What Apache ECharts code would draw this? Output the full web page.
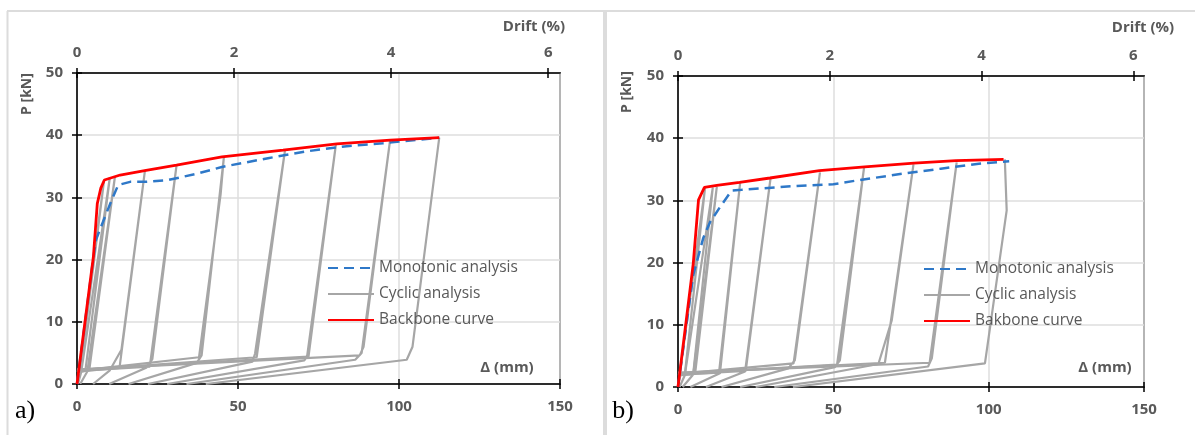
<!DOCTYPE html>
<html><head><meta charset="utf-8">
<script src="https://cdn.jsdelivr.net/npm/echarts@6/dist/echarts.min.js"></script>
<style>html,body{margin:0;padding:0;background:#fff}#c{width:1195px;height:435px}</style>
</head><body><div id="c"></div>
<script>
// ---------------- data ----------------
const xTickValues = [0, 50, 100, 150];
const yTickValues = [0, 10, 20, 30, 40, 50];
const driftTickValues = [0, 2, 4, 6];
const driftMaxA = 6.15;   // drift (%) at Δ = 150 mm, panel a
const driftMaxB = 6.14;   // panel b
const namesA = ['Monotonic analysis', 'Cyclic analysis', 'Backbone curve'];
const namesB = ['Monotonic analysis', 'Cyclic analysis', 'Bakbone curve'];
const panelLabels = ['a)', 'b)'];
const xAxisTitle = 'Δ (mm)';
const topAxisTitle = 'Drift (%)';
const yAxisTitle = 'P [kN]';

// panel a
const monotonicA = [[0,0],[5.0,20.0],[5.9,23.2],[8.7,26.9],[10.8,29.6],[12.8,32.0],[16.5,32.5],[21.2,32.5],[28.4,32.8],[37.9,33.9],[45.0,34.9],[59.3,36.3],[71.2,37.4],[83.0,38.2],[95.0,38.7],[112.5,39.6]];
const backboneA = [[0,0],[5.1,20.5],[6.3,29.0],[7.4,31.5],[8.5,32.8],[13.4,33.6],[21.0,34.3],[30.9,35.2],[45.0,36.5],[64.0,37.6],[80.7,38.6],[97.3,39.2],[112.5,39.6]];
const cyclicA = [
  [[0,0],[8.4,32.7],[1.0,2.0],[0,1.9]],
  [[0.3,0],[1.3,1.9],[10.2,33.2],[2.6,2.1],[0,1.9]],
  [[1.0,0],[3.2,2.0],[11.8,33.4],[3.8,2.2],[0,2.0]],
  [[5,0],[10.2,2.2],[13.8,5.5],[21.1,34.3],[13.2,2.6],[0,2.0]],
  [[10,0],[21.5,2.6],[23.4,4.0],[30.9,35.1],[22.6,2.8],[0,2.1]],
  [[16,0],[37.2,3.4],[38.7,4.6],[45.6,36.4],[44.6,30.5],[37.9,4.3],[0,2.1]],
  [[22,0],[54.5,3.6],[55.3,4.9],[64.6,37.6],[55.8,4.3],[0,2.2]],
  [[28,0],[70.6,3.8],[71.5,4.6],[80.4,38.5],[71.9,4.4],[0,2.3]],
  [[34,0],[86.4,3.9],[88.4,5.0],[97.2,39.1],[89.0,6.0],[87.8,4.6],[0,2.3]],
  [[40,0],[102.4,3.9],[104.2,6.0],[112.5,39.6]]
];

// panel b
const monotonicB = [[0,0],[4.9,18.0],[8.1,23.9],[10.3,26.5],[13.5,28.9],[17.3,31.6],[20.5,31.7],[37.1,32.3],[50.0,32.6],[57.5,33.2],[72.4,34.3],[84.6,35.1],[96.8,35.9],[106.6,36.3]];
const backboneB = [[0,0],[4.9,19.8],[6.6,30.1],[8.5,32.1],[12.5,32.4],[19.8,32.9],[29.6,33.6],[45.5,34.8],[60.1,35.4],[76.0,36.0],[89.5,36.4],[104.8,36.6]];
const cyclicB = [
  [[0,0],[8.7,32.0],[2.2,2.0],[0,1.8]],
  [[0.5,0],[2.2,1.9],[11.2,32.1],[4.9,2.1],[0,1.9]],
  [[1.5,0],[4.9,2.0],[12.5,32.2],[5.5,2.1],[0,1.9]],
  [[4,0],[13.5,2.2],[20.0,32.8],[13.2,2.3],[0,2.0]],
  [[9,0],[21.6,2.5],[29.8,33.6],[21.8,2.6],[0,2.0]],
  [[14,0],[35.5,3.0],[37.6,4.3],[45.7,34.5],[37.2,3.8],[0,2.1]],
  [[20,0],[50.5,3.2],[52.1,4.3],[59.9,35.3],[51.2,3.6],[0,2.1]],
  [[25,0],[64.5,3.7],[68.8,10.7],[75.8,35.8],[66.6,3.9],[0,2.2]],
  [[31,0],[80.5,3.3],[81.7,4.6],[89.7,36.1],[81.0,3.9],[0,2.3]],
  [[37,0],[98.8,3.8],[105.8,28.4],[105.2,36.6]]
];

// ---------------- styles ----------------
const FONT = "'Open Sans', 'Noto Sans', sans-serif";
const TXT = '#595959';
const GRAY = '#a6a6a6', BLUE = '#2e78c8', RED = '#ff0000';
const gridA = { left: 77, top: 73, width: 483, height: 311 };
const gridB = { left: 678, top: 76, width: 466, height: 311 };

function labelStyle(margin) {
  return { color: TXT, fontFamily: FONT, fontWeight: 'bold', fontSize: 15, margin: margin };
}
function bottomAxis(gi, overlay) {
  return {
    type: 'value', gridIndex: gi, position: 'bottom', min: xTickValues[0], max: xTickValues[xTickValues.length - 1], interval: 50,
    axisLine: { show: !overlay, onZero: false, lineStyle: { color: '#000', width: 1.5 } },
    axisTick: { show: true, inside: overlay, length: 5, lineStyle: { color: '#000', width: 1.5 } },
    axisLabel: overlay ? { show: false } : labelStyle(15),
    splitLine: { show: !overlay, lineStyle: { color: '#dedede', width: 1.5 } }
  };
}
function topAxis(gi, max, overlay) {
  return {
    type: 'value', gridIndex: gi, position: 'top', min: 0, max: max,
    axisLine: { show: !overlay, onZero: false, lineStyle: { color: '#000', width: 1.5 } },
    axisTick: { show: true, inside: overlay, length: 5, customValues: driftTickValues, lineStyle: { color: '#000', width: 1.5 } },
    axisLabel: overlay ? { show: false } : Object.assign(labelStyle(13), { customValues: driftTickValues }),
    splitLine: { show: false }
  };
}
function leftAxis(gi, overlay) {
  return {
    type: 'value', gridIndex: gi, position: 'left', min: yTickValues[0], max: yTickValues[yTickValues.length - 1], interval: 10,
    axisLine: { show: !overlay, onZero: false, lineStyle: { color: '#000', width: 1.5 } },
    axisTick: { show: true, inside: overlay, length: 5, lineStyle: { color: '#000', width: 1.5 } },
    axisLabel: overlay ? { show: false } : labelStyle(14),
    splitLine: { show: !overlay, lineStyle: { color: '#dedede', width: 1.5 } }
  };
}
function line(name, data, xi, yi, color, width, type, z) {
  return {
    type: 'line', name: name, data: data, xAxisIndex: xi, yAxisIndex: yi,
    symbol: 'none', showSymbol: false, clip: true, animation: false, z: z,
    lineStyle: { color: color, width: width, type: type }, itemStyle: { color: color },
    emphasis: { disabled: true }
  };
}

const series = [];
cyclicA.forEach(c => series.push(line(namesA[1], c, 0, 0, GRAY, 2.2, 'solid', 2)));
series.push(line(namesA[0], monotonicA, 0, 0, BLUE, 2.5, [10, 6], 3));
series.push(line(namesA[2], backboneA, 0, 0, RED, 2.8, 'solid', 4));
cyclicB.forEach(c => series.push(line(namesB[1], c, 2, 1, GRAY, 2.2, 'solid', 2)));
series.push(line(namesB[0], monotonicB, 2, 1, BLUE, 2.5, [10, 6], 3));
series.push(line(namesB[2], backboneB, 2, 1, RED, 2.8, 'solid', 4));

function legend(left, top, names) {
  return {
    orient: 'vertical', left: left, top: top, data: names, selectedMode: false,
    itemWidth: 46, itemHeight: 14, itemGap: 10, padding: 0,
    itemStyle: { opacity: 0 },
    textStyle: { color: TXT, fontFamily: FONT, fontSize: 15.5, lineHeight: 14, padding: [0, 0, 0, 0] }
  };
}
function txt(x, y, s, opts) {
  return Object.assign({ type: 'text', x: x, y: y, silent: true, z: 100,
    style: Object.assign({ text: s, fill: TXT, font: 'bold 15px ' + FONT, align: 'center', verticalAlign: 'middle' }, opts || {}) });
}

const chart = echarts.init(document.getElementById('c'), null, { renderer: 'canvas' });
chart.setOption({
  backgroundColor: '#fff',
  animation: false,
  grid: [
    Object.assign({ show: true, borderColor: '#000', borderWidth: 1.5, backgroundColor: 'transparent' }, gridA),
    Object.assign({ show: true, borderColor: '#000', borderWidth: 1.5, backgroundColor: 'transparent' }, gridB),
    Object.assign({}, gridA),
    Object.assign({}, gridB)
  ],
  xAxis: [
    bottomAxis(0, false), topAxis(0, driftMaxA, false),
    bottomAxis(1, false), topAxis(1, driftMaxB, false),
    bottomAxis(2, true), topAxis(2, driftMaxA, true),
    bottomAxis(3, true), topAxis(3, driftMaxB, true)
  ],
  yAxis: [leftAxis(0, false), leftAxis(1, false), leftAxis(2, true), leftAxis(3, true)],
  legend: [legend(327, 260, namesA), legend(923, 261, namesB)],
  series: series,
  graphic: [
    { type: 'line', silent: true, shape: { x1: 7.5, y1: 11, x2: 7.5, y2: 435 }, style: { stroke: '#dcdcdc', lineWidth: 2 } },
    { type: 'line', silent: true, shape: { x1: 7, y1: 11, x2: 1195, y2: 11 }, style: { stroke: '#dcdcdc', lineWidth: 2 } },
    { type: 'rect', silent: true, shape: { x: 603, y: 11, width: 4, height: 424 }, style: { fill: '#dcdcdc' } },
    txt(534, 27, topAxisTitle), txt(1143, 28, topAxisTitle),
    txt(507, 368, xAxisTitle), txt(1105, 368, xAxisTitle),
    Object.assign(txt(27, 94, yAxisTitle, { font: 'bold 14px ' + FONT }), { rotation: Math.PI / 2 }),
    Object.assign(txt(627, 92, yAxisTitle, { font: 'bold 14px ' + FONT }), { rotation: Math.PI / 2 }),
    txt(25, 411, panelLabels[0], { fill: '#000', font: '26px "Liberation Serif", serif' }),
    txt(623, 411, panelLabels[1], { fill: '#000', font: '26px "Liberation Serif", serif' })
  ]
});
</script></body></html>
